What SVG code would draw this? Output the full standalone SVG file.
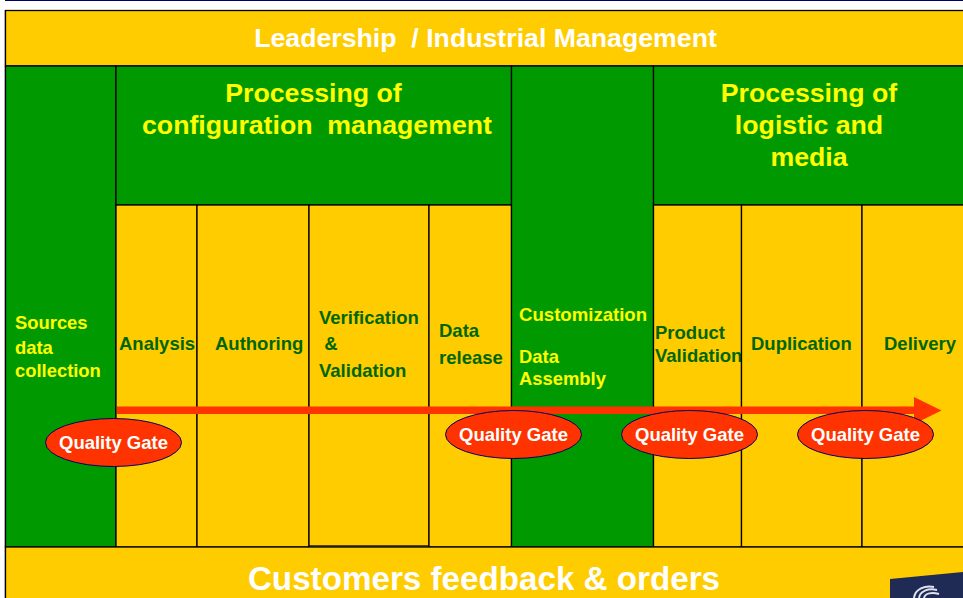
<svg xmlns="http://www.w3.org/2000/svg" width="963" height="598" viewBox="0 0 963 598">
<style>
text{font-family:"Liberation Sans",Arial,sans-serif;font-weight:bold;white-space:pre}
.y{fill:#ffcc00;stroke:#000;stroke-width:1.3}
.g{fill:#009900;stroke:#000;stroke-width:1.3}
.h{fill:#ffff00;font-size:26.7px;text-anchor:middle}
.w{fill:#fff;text-anchor:middle}
.l{fill:#006600;font-size:18.5px}
.s{fill:#ffff00;font-size:18.4px}
.q{fill:#ff3300;stroke:#000066;stroke-width:1}
.qt{fill:#fff;font-size:18.5px;text-anchor:middle}
</style>
<rect width="963" height="598" fill="#fff"/>
<rect x="5" y="0" width="958" height="1" fill="#000066"/>
<rect x="4" y="10" width="1" height="588" fill="#ccc"/>
<g id="leadership"><rect class="y" x="5.500" y="10.500" width="959" height="55.500"/><text class="w" x="485.500" y="47" font-size="26.700">Leadership  / Industrial Management</text></g>
<g id="sources"><rect class="g" x="5.500" y="66" width="110.500" height="481"/><text class="s" x="15" y="329">Sources</text><text class="s" x="15" y="354">data</text><text class="s" x="15" y="377">collection</text></g>
<g id="config"><rect class="g" x="116" y="66" width="395.500" height="139"/><text class="h" x="313.500" y="102">Processing of</text><text class="h" x="317" y="134">configuration  management</text></g>
<g id="analysis"><rect class="y" x="116" y="205" width="81" height="342"/><text class="l" x="119" y="350">Analysis</text></g>
<g id="authoring"><rect class="y" x="197" y="205" width="112" height="342"/><text class="l" x="215" y="350">Authoring</text></g>
<g id="verification"><rect class="y" x="309" y="205" width="120" height="341"/><text class="l" x="319" y="324">Verification</text><text class="l" x="319" y="350"> &amp;</text><text class="l" x="319" y="377">Validation</text></g>
<g id="release"><rect class="y" x="429" y="205" width="82.500" height="342"/><text class="l" x="439" y="337">Data</text><text class="l" x="439" y="364">release</text></g>
<g id="customization"><rect class="g" x="511.500" y="66" width="142" height="481"/><text class="s" x="519" y="321" font-size="18.600" style="font-size:18.600px">Customization</text><text class="s" x="519" y="363">Data</text><text class="s" x="519" y="385">Assembly</text></g>
<g id="logistic"><rect class="g" x="653.500" y="66" width="311" height="139"/><text class="h" x="809" y="102">Processing of</text><text class="h" x="809" y="134">logistic and</text><text class="h" x="809" y="166">media</text></g>
<g id="product"><rect class="y" x="653.500" y="205" width="88" height="342"/><text class="l" x="655" y="339">Product</text><text class="l" x="655" y="362">Validation</text></g>
<g id="duplication"><rect class="y" x="741.500" y="205" width="120.500" height="342"/><text class="l" x="751" y="350">Duplication</text></g>
<g id="delivery"><rect class="y" x="862" y="205" width="102" height="342"/><text class="l" x="884" y="350">Delivery</text></g>
<g id="customers"><rect class="y" x="5.500" y="547" width="959" height="52"/><text class="w" x="484" y="590" font-size="33.200">Customers feedback &amp; orders</text></g>
<g id="connectors"><path fill="#ff3300" d="M117 406.500H914V397L941.500 410.500 914 424V414H117Z"/></g>
<g id="gate1"><ellipse class="q" cx="113.500" cy="442.500" rx="68" ry="24"/><text class="qt" x="113.500" y="449">Quality Gate</text></g>
<g id="gate2"><ellipse class="q" cx="513.500" cy="434.500" rx="68" ry="24"/><text class="qt" x="513.500" y="441">Quality Gate</text></g>
<g id="gate3"><ellipse class="q" cx="689.500" cy="434.500" rx="68" ry="24"/><text class="qt" x="689.500" y="441">Quality Gate</text></g>
<g id="gate4"><ellipse class="q" cx="865.500" cy="434.500" rx="68" ry="24"/><text class="qt" x="865.500" y="441">Quality Gate</text></g>
<g id="logo"><path fill="#1f2a55" d="M890 579L963 572V598H890Z"/><g fill="none" stroke="#dfe3ee" stroke-width="2"><path d="M914 598C915 589 925 585 934 587 M919 598C920 591 928 588 937 590 M924 598C925 593 932 592 939 594"/></g></g>
</svg>
